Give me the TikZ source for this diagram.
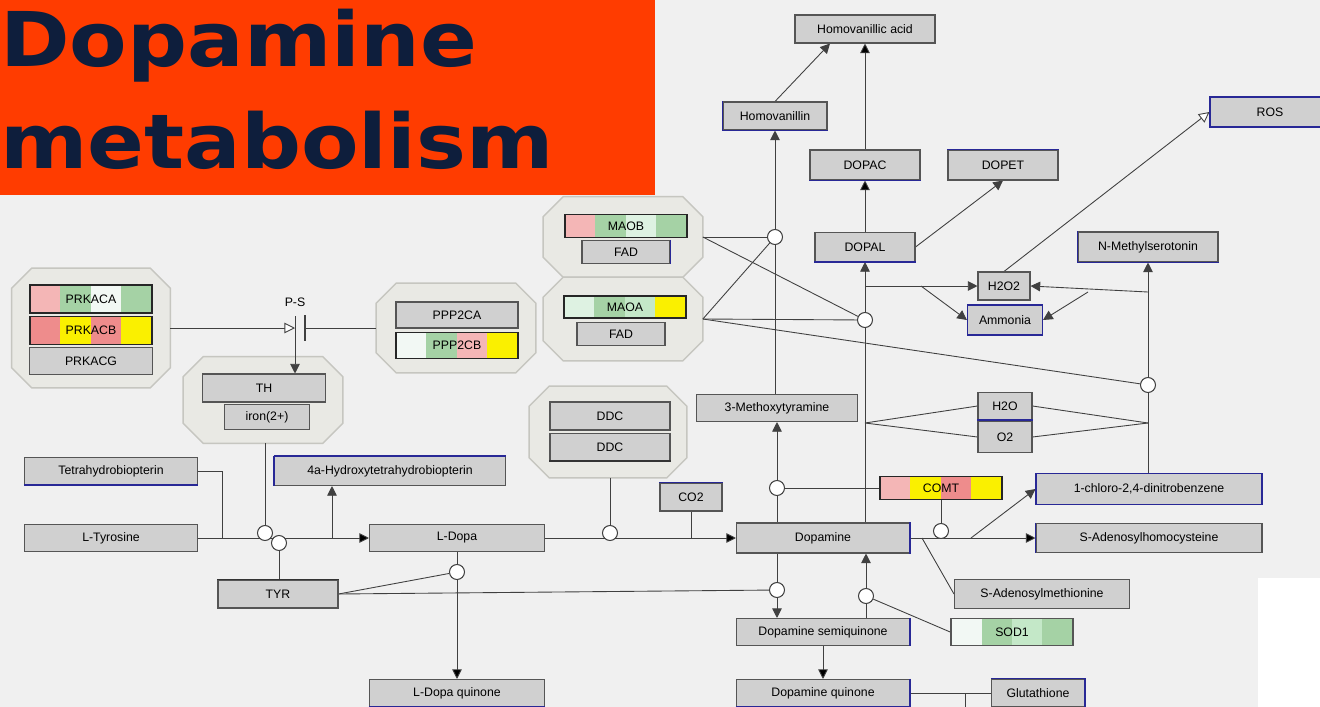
\documentclass[tikz,border=0pt]{standalone}
\usepackage{fontspec}
\setmainfont{Liberation Sans}
\newfontfamily\titlefont{DejaVu Sans}[FakeStretch=1.11]
\usepackage{tikz}
\usetikzlibrary{positioning}
\usetikzlibrary{arrows.meta}
\pgfdeclarelayer{back}
\pgfdeclarelayer{wires}
\pgfsetlayers{back,wires,main}
\definecolor{bgrey}{RGB}{240,240,240}
\definecolor{titlered}{RGB}{255,60,0}
\definecolor{titleblue}{RGB}{14,30,60}
\definecolor{boxgrey}{RGB}{208,208,208}
\definecolor{edgegrey}{RGB}{85,85,85}
\definecolor{cplxfill}{RGB}{233,233,228}
\definecolor{cplxline}{RGB}{198,198,192}
\definecolor{metblue}{RGB}{40,40,150}
\definecolor{gpink}{RGB}{244,182,182}
\definecolor{gsalmon}{RGB}{238,140,140}
\definecolor{ggreen}{RGB}{165,210,165}
\definecolor{glight}{RGB}{196,232,200}
\definecolor{gmint}{RGB}{222,242,226}
\definecolor{gyellow}{RGB}{250,240,0}
\definecolor{gwhite}{RGB}{242,248,244}

\begin{document}
\begin{tikzpicture}
        [x=0.02cm, y=-0.02cm,
         box/.style 2 args={draw=edgegrey, fill=boxgrey, line width=0.6pt, inner sep=0pt,
           minimum width=#1*0.02cm, minimum height=#2*0.02cm, font=\fontsize{7}{8}\selectfont},
         gene/.style n args={5}{box={122}{#1}, draw=black!85, line width=0.9pt,
           path picture={\foreach \c [count=\i from 0] in {#2,#3,#4,#5}
             \fill[\c] ([xshift=\i*0.61cm]path picture bounding box.south west) rectangle +(0.61cm,1cm);}},
         cplx/.style 2 args={inner sep=0pt, minimum width=#1*0.02cm, minimum height=#2*0.02cm},
         cplxpath/.style={draw=cplxline, fill=cplxfill, line width=0.8pt},
         ring/.style={circle, draw=black!75, fill=white, line width=0.6pt, minimum size=0.3cm, inner sep=0pt},
         wire/.style={draw=black!75, line width=0.5pt},
         conv/.style={wire, -{Triangle[length=5.5pt,width=5.5pt]}},
         oconv/.style={wire, -{Triangle[open,length=6pt,width=6pt,fill=white]}},
         blueedge/.style={draw=metblue, line width=1.1pt},
         headline/.style={anchor=base west, inner sep=0pt, text=titleblue, text height=32pt,
           text depth=9pt, font=\titlefont\bfseries\fontsize{43}{50}\selectfont}]
        \begin{pgfonlayer}{back}
        \fill[bgrey] (0,0) rectangle (1320,707);
        \fill[white] (1258,578) rectangle (1320,707);
        \fill[titlered] (0,0) rectangle (655,195);
        \end{pgfonlayer}
        \useasboundingbox (0,0) rectangle (1320,707);
        \node[headline]  (T1) at (0,66) {Dopamine};
        \node[headline]  (T2) at (0,168) {metabolism};

        % complexes
        \node[cplx={158}{119}]  (PKA) at (91,328) {};
        \node[cplx={159}{89}]  (PP2A) at (456,328) {};
        \node[cplx={159}{80}]  (MAOBc) at (623,237) {};
        \node[cplx={159}{83}]  (MAOAc) at (623,319) {};
        \node[cplx={159}{86}]  (THc) at (263,400) {};
        \node[cplx={157}{91}]  (DDCc) at (608,432) {};
        \begin{pgfonlayer}{back}
        \foreach \n in {PKA,PP2A,MAOBc,MAOAc,THc,DDCc}
          \path[cplxpath] ([xshift=0.4cm]\n.north west) -- ([xshift=-0.4cm]\n.north east)
            -- ([yshift=-0.4cm]\n.north east) -- ([yshift=0.4cm]\n.south east)
            -- ([xshift=-0.4cm]\n.south east) -- ([xshift=0.4cm]\n.south west)
            -- ([yshift=0.4cm]\n.south west) -- ([yshift=-0.4cm]\n.north west) -- cycle;
        \end{pgfonlayer}

        \node[gene={28}{gpink}{ggreen}{gwhite}{ggreen}]  (PRKACA) at (91,299) {PRKACA};
        \node[gene={28}{gsalmon}{gyellow}{gsalmon}{gyellow}]  (PRKACB) [below=0.04cm of PRKACA] {PRKACB};
        \node[box={123}{27}]  (PRKACG) [below=0.04cm of PRKACB] {PRKACG};
        \node[box={122}{26}]  (PPP2CA) at (457,315) {PPP2CA};
        \node[gene={26}{gwhite}{ggreen}{gpink}{gyellow}]  (PPP2CB) [below=0.06cm of PPP2CA] {PPP2CB};
        \node[gene={23}{gpink}{ggreen}{gmint}{ggreen}]  (MAOB) at (626,226) {MAOB};
        \node[box={88}{23}]  (FADb) [below=0.03cm of MAOB] {FAD};
        \node[gene={22}{gmint}{ggreen}{glight}{gyellow}]  (MAOA) at (625,307) {MAOA};
        \node[box={88}{23}]  (FADa) at (621,334) {FAD};
        \node[box={123}{28}]  (TH) at (264,388) {TH};
        \node[box={85}{25}]  (Fe) at (267,417) {iron(2+)};
        \node[box={120}{28}]  (DDC1) at (610,416) {DDC};
        \node[box={120}{27}]  (DDC2) [below=0.05cm of DDC1] {DDC};

        % metabolites
        \node[box={140}{28}]  (HVA) at (865,29) {Homovanillic acid};
        \node[box={104}{28}]  (HVL) at (775,116) {Homovanillin};
        \node[box={110}{30}]  (DOPAC) at (865,165) {DOPAC};
        \node[box={110}{30}]  (DOPET) at (1003,165) {DOPET};
        \node[box={120}{30},draw=metblue]  (ROS) at (1270,112) {ROS};
        \node[box={100}{29}]  (DOPAL) at (865,247) {DOPAL};
        \node[box={140}{30}]  (NMS) at (1148,247) {N-Methylserotonin};
        \node[box={52}{28}]  (H2O2) at (1004,286) {H2O2};
        \node[box={75}{30},draw=metblue]  (NH3) at (1005,320) {Ammonia};
        \node[box={161}{27}]  (MT) at (777,408) {3-Methoxytyramine};
        \node[box={54}{27}]  (H2O) at (1005,406) {H2O};
        \node[box={54}{31}]  (O2) at (1005,437) {O2};
        \node[box={173}{27}]  (THB) at (111,471) {Tetrahydrobiopterin};
        \node[box={231}{29}]  (HTHB) at (390,471) {4a-Hydroxytetrahydrobiopterin};
        \node[box={62}{28}]  (CO2) at (691,497) {CO2};
        \node[gene={23}{gpink}{gyellow}{gsalmon}{gyellow}]  (COMT) at (941,488) {COMT};
        \node[box={226}{31},draw=metblue]  (CDNB) at (1149,489) {1-chloro-2,4-dinitrobenzene};
        \node[box={173}{27}]  (LTyr) at (111,538) {L-Tyrosine};
        \node[box={175}{27}]  (LDopa) at (457,538) {L-Dopa};
        \node[box={173}{30}]  (DA) at (823,538) {Dopamine};
        \node[box={226}{29}]  (SAH) at (1149,538) {S-Adenosylhomocysteine};
        \node[box={120}{28}]  (TYR) at (278,594) {TYR};
        \node[box={175}{29}]  (SAM) at (1042,594) {S-Adenosylmethionine};
        \node[gene={27}{gwhite}{ggreen}{glight}{ggreen},draw=edgegrey]  (SOD1) at (1012,632) {SOD1};
        \node[box={173}{27}]  (DASQ) at (823,632) {Dopamine semiquinone};
        \node[box={175}{27}]  (LDQ) at (457,693) {L-Dopa quinone};
        \node[box={173}{27}]  (DAQ) at (823,693) {Dopamine quinone};
        \node[box={93}{28}]  (GSH) at (1038,693) {Glutathione};

        \foreach \n/\a/\b in {HVL/south west/south east, HVL/north west/south west,
            DOPAC/south west/south east, DOPET/north west/north east, DOPAL/south west/south east,
            NMS/south west/south east, NMS/north west/south west, H2O/south west/south east,
            HTHB/north west/north east, HTHB/north west/south west, THB/south west/south east,
            CO2/north west/north east, SAH/north west/south west, DA/north east/south east,
            DASQ/north east/south east, DAQ/north east/south east, DAQ/south west/south east,
            GSH/north west/north east, GSH/north east/south east, LDQ/south west/south east,
            FADb/north east/south east}
          \draw[blueedge] (\n.\a) -- (\n.\b);
        \draw[blueedge, draw=black!80] (TYR.north west) -- (TYR.north east);
        \draw[blueedge, draw=black!80] (DDC2.south west) -- (DDC2.south east);

        % catalysis rings
        \node[ring]  (c1) at (265,533) {};
        \node[ring]  (c2) at (279,543) {};
        \node[ring]  (c3) at (457,572) {};
        \node[ring]  (c4) at (610,533) {};
        \node[ring]  (c5) at (775,237) {};
        \node[ring]  (c6) at (865,320) {};
        \node[ring]  (c7) at (1148,385) {};
        \node[ring]  (c8) at (777,488) {};
        \node[ring]  (c9) at (941,531) {};
        \node[ring]  (c10) at (777,590) {};
        \node[ring]  (c11) at (866,596) {};

        \coordinate (j1) at (222,538);
        \coordinate (j2) at (332,538);
        \coordinate (j3) at (965,693);
        \coordinate (j4) at (965,707);
        \coordinate (j6) at (865,286);
        \coordinate (j7) at (921,286);
        \coordinate (j8) at (1148,292);
        \coordinate (j9) at (1088,292);
        \coordinate (j10) at (865,423);
        \coordinate (j11) at (1148,423);
        \coordinate (j12) at (971,538);
        \coordinate (j13) at (922,538);
        \coordinate (ps) at (295,328);
        \coordinate (pstop) at (295,316);
        \coordinate (bar) at (305,328);
        \node[font=\fontsize{7}{8}\selectfont]  (pslbl) at (295,302) {P-S};

        \begin{pgfonlayer}{wires}
        \path [conv] (LTyr) edge (LDopa)
        (LDopa) edge (DA)
        (DA) edge (SAH)
        (LDopa) edge (LDQ)
        (DASQ) edge (DAQ)
        (DOPAL) edge (DOPAC)
        (DOPAC) edge (HVA);
        \draw [wire] (THB.east) -| (j1);
        \draw [wire] (c1 |- THc.south) -- (c1);
        \draw [wire] (c2 |- TYR.north) -- (c2);
        \draw [conv] (j2) -- (j2 |- HTHB.south);
        \draw [wire] (c4 |- DDCc.south) -- (c4);
        \draw [wire] (CO2.south) -- (CO2.south |- DA.west);
        \draw [wire] (TYR.east) -- (c3);
        \draw [wire] (TYR.east) -- (c10);
        \draw [conv] (DA.south -| c10) -- (DASQ.north -| c10);
        \draw [conv] (DASQ.north -| c11) -- (DA.south -| c11);
        \draw [wire] (SOD1.west) -- (c11);
        \draw [wire] (DAQ.east) -- (GSH.west);
        \draw [wire] (j3) -- (j4);
        \draw [conv] (DA.north -| MT) -- (MT.south);
        \draw [wire] (COMT.west) -- (c8);
        \draw [conv] (HVL.south |- MT.north) -- (HVL.south);
        \draw [conv] (HVL.north) -- ([xshift=-0.7cm]HVA.south);
        \draw [conv] (DA.north -| DOPAL) -- (DOPAL.south);
        \draw [conv] (DOPAL.east) -- (DOPET.south);
        \draw [oconv] (H2O2.north) -- (ROS.west);
        \draw [conv] (j6) -- (H2O2.west);
        \draw [conv] (j7) -- (NH3.west);
        \draw [conv] (j8) -- (H2O2.east);
        \draw [conv] (j9) -- (NH3.east);
        \draw [conv] (NMS.south |- CDNB.north) -- (NMS.south);
        \draw [wire] (MAOBc.east) -- (c5);
        \draw [wire] (MAOBc.east) -- (c6);
        \draw [wire] (MAOAc.east) -- (c5);
        \draw [wire] (MAOAc.east) -- (c6);
        \draw [wire] (MAOAc.east) -- (c7);
        \draw [wire] (j10) -- (H2O.west);
        \draw [wire] (j10) -- (O2.west);
        \draw [wire] (H2O.east) -- (j11);
        \draw [wire] (O2.east) -- (j11);
        \draw [wire] (COMT.south) -- (c9);
        \draw [conv] (j12) -- (CDNB.west);
        \draw [wire] (j13) -- (SAM.west);
        \draw [oconv] (PKA.east) -- (ps);
        \draw [wire] (PP2A.west) -- (bar);
        \draw [conv] (pstop) -- (pstop |- TH.north);
        \end{pgfonlayer}
        \draw [wire, line width=1.6pt] ([yshift=0.26cm]bar) -- ([yshift=-0.26cm]bar);
\end{tikzpicture}
\end{document}
